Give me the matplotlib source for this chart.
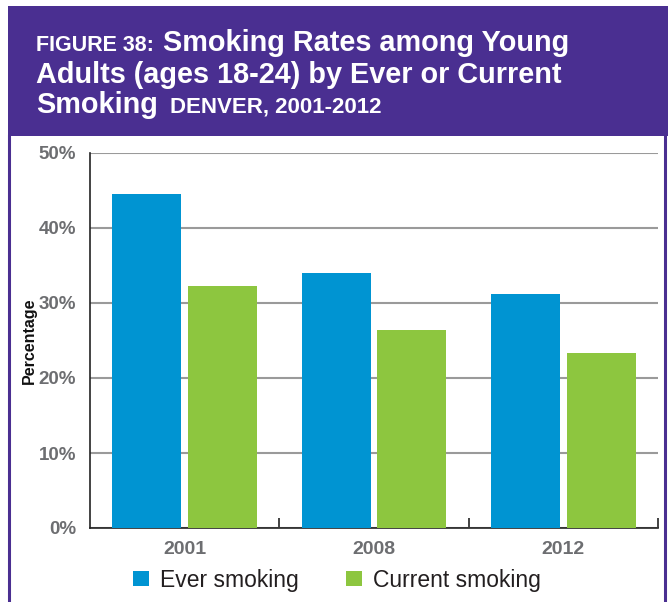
import matplotlib
matplotlib.use("Agg")
import matplotlib.pyplot as plt
from matplotlib.patches import Rectangle
from matplotlib.lines import Line2D
import numpy as np

years = ["2001", "2008", "2012"]
ever_smoking = [44.5, 34.0, 31.2]
current_smoking = [32.3, 26.4, 23.3]
series_names = ["Ever smoking", "Current smoking"]
yticks = [0, 10, 20, 30, 40, 50]
ytick_labels = ["0%", "10%", "20%", "30%", "40%", "50%"]

PURPLE = "#4a2f91"
BLUE = "#0094d2"
GREEN = "#8dc63f"
GRAY_TXT = "#6d6e71"

W, H = 668, 602
fig = plt.figure(figsize=(W / 100, H / 100), dpi=100)
fig.patch.set_facecolor("white")

def fx(px):
    return px / W

def fy(py):
    return 1 - py / H

TFAM = ["Liberation Sans", "DejaVu Sans"]

# header band
fig.patches.append(Rectangle((fx(8), fy(136)), fx(668) - fx(8), fy(6) - fy(136),
                             transform=fig.transFigure, facecolor=PURPLE,
                             edgecolor="none", zorder=0))
fig.lines.append(Line2D([fx(8.5), fx(8.5)], [fy(136), 0], transform=fig.transFigure,
                        color=PURPLE, lw=2.2))
fig.lines.append(Line2D([fx(665), fx(665)], [fy(136), 0], transform=fig.transFigure,
                        color=PURPLE, lw=2.2))

ax = fig.add_axes([fx(90), fy(528), fx(658) - fx(90), fy(153) - fy(528)])
x = np.arange(len(years))
w = 0.365
ax.bar(x - 0.2, ever_smoking, width=w, color=BLUE, zorder=3, label=series_names[0])
ax.bar(x + 0.2, current_smoking, width=w, color=GREEN, zorder=3, label=series_names[1])
ax.set_xlim(-0.5, 2.5)
ax.set_ylim(0, 50)
ax.set_yticks(yticks)
ax.set_yticklabels(ytick_labels, fontfamily="Liberation Sans", fontweight="bold",
                   fontsize=13.5, color=GRAY_TXT)
ax.set_xticks(x)
ax.set_xticklabels(years, fontfamily="Liberation Sans", fontweight="bold",
                   fontsize=14, color=GRAY_TXT)
ax.tick_params(axis="both", which="major", length=0)
ax.tick_params(axis="y", pad=10)
ax.tick_params(axis="x", pad=9)
ax.set_xticks([0.5, 1.5, 2.5], minor=True)
ax.tick_params(axis="x", which="minor", direction="in", length=7, width=1.2, color="#222222")
ax.yaxis.grid(True, color="#9a9a9a", lw=1.5, zorder=0)
ax.set_axisbelow(True)
for s in ["top", "right"]:
    ax.spines[s].set_visible(False)
for s in ["left", "bottom"]:
    ax.spines[s].set_color("#222222")
    ax.spines[s].set_linewidth(1.2)
ax.set_ylabel("Percentage", fontfamily="Liberation Sans", fontweight="bold",
              fontsize=11.5, color="#111111", labelpad=1)

leg = fig.legend(loc="center", bbox_to_anchor=(fx(337), fy(580)), ncol=2, frameon=False,
                 prop={"family": ["Liberation Sans", "DejaVu Sans"], "size": 16.5},
                 handlelength=0.66, handleheight=0.66, columnspacing=2.1, handletextpad=0.48)
for t in leg.get_texts():
    t.set_color("#231f20")

# title
fig.canvas.draw()
r = fig.canvas.get_renderer()

def put(text, xpx, ypx, size):
    t = fig.text(fx(xpx), fy(ypx), text, color="white", fontweight="bold",
                 fontfamily=TFAM, fontsize=size, va="baseline", ha="left")
    bb = t.get_window_extent(renderer=r)
    return bb.x1 * W / fig.bbox.width

end = put("FIGURE 38:", 36, 51, 15.5)
put("Smoking Rates among Young", end + 9, 51, 20.8)
put("Adults (ages 18-24) by Ever or Current", 36, 83, 20.8)
end = put("Smoking", 36, 113, 20.8)
put("DENVER, 2001-2012", end + 12, 113, 16)

fig.savefig("out.png", dpi=100)
